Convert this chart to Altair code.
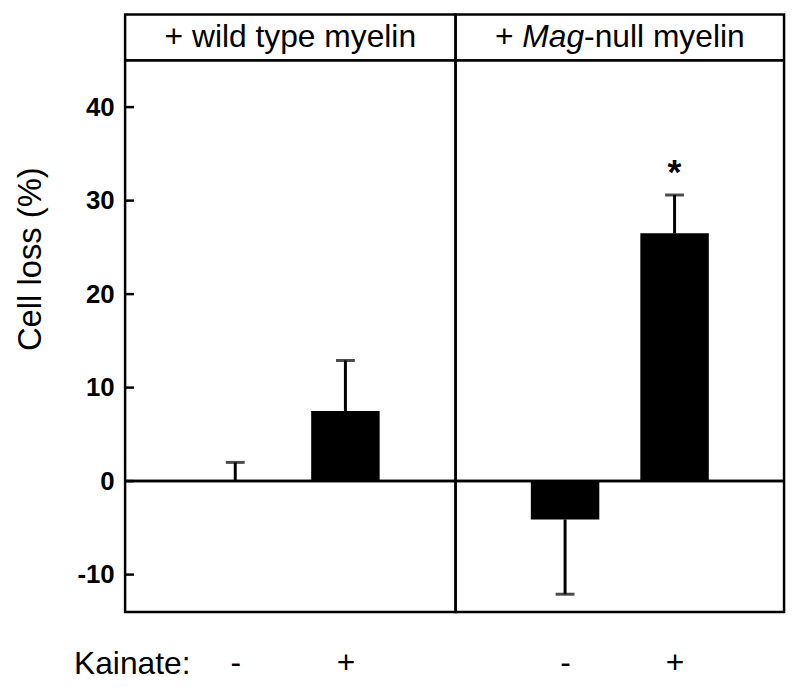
import altair as alt
import pandas as pd

# ---- data ----
panel_titles = ["+ wild type myelin", "+ Mag-null myelin"]
header_parts = ["+", "Mag", "-null myelin"]   # right header, "Mag" italic
groups = ["wt", "wt", "mag", "mag"]
kainate = ["-", "+", "-", "+"]
means = [0.0, 7.5, -4.1, 26.5]
errors = [2.0, 5.4, 8.0, 4.1]
stars = ["", "", "", "*"]
y_ticks = [-10, 0, 10, 20, 30, 40]

Y_MIN, Y_MAX, Y_TOP = -14, 45, 49.9
PANEL_WS = [333, 331]
PANEL_H = 602
FONT = "Liberation Sans"
HFS = 32

df = pd.DataFrame(dict(group=groups, kainate=kainate, mean=means, err=errors, star=stars))
df["end"] = [m + (e if m >= 0 else -e) for m, e in zip(means, errors)]

yscale = alt.Scale(domain=[Y_MIN, Y_TOP], nice=False, zero=False)
xscale = alt.Scale(type="point", domain=["-", "+"], padding=1)


def make_panel(g, first, pw):
    d = df[df.group == g]
    xaxis_kw = dict(labelAngle=0, labelFontSize=32, labelFont=FONT, labelColor="black",
                    labelBaseline="alphabetic", labelPadding=61, ticks=False, tickSize=0,
                    domain=False, grid=False)
    if first:
        xaxis_kw.update(title="Kainate:", titleFont=FONT, titleFontSize=32,
                        titleFontWeight="normal", titleColor="black", titleX=-52, titleY=62,
                        titleAlign="left", titleBaseline="alphabetic")
    else:
        xaxis_kw.update(title="")
    x = alt.X("kainate:N", scale=xscale, axis=alt.Axis(**xaxis_kw))
    if first:
        yaxis = alt.Axis(values=y_ticks, ticks=False, tickSize=0, domain=False, grid=False,
                         labelExpr="'' + datum.value",
                         labelFont=FONT, labelFontWeight="bold", labelFontSize=26,
                         labelColor="black", labelPadding=11,
                         title="Cell loss (%)", titleFont=FONT, titleFontSize=33,
                         titleFontWeight="normal", titleColor="black",
                         titleX=-95, titleY=246, titleAlign="center", titleBaseline="middle",
                         titleAngle=-90)
    else:
        yaxis = None
    base = alt.Chart(d)
    bars = base.mark_bar(size=69, color="black").encode(
        x=x, y=alt.Y("mean:Q", scale=yscale, axis=yaxis), y2=alt.datum(0))
    err = base.mark_rule(strokeWidth=3, color="black").encode(
        x="kainate:N", y="mean:Q", y2="end:Q")
    cap = base.mark_tick(orient="horizontal", size=19, thickness=3, color="black").encode(
        x="kainate:N", y="end:Q")
    star = base.mark_text(fontSize=36, font=FONT, fontWeight="bold", dy=-22, baseline="middle",
                          color="black").encode(x="kainate:N", y="end:Q", text="star:N")
    zero = alt.Chart(d).mark_rule(strokeWidth=2.5, color="black").encode(y=alt.datum(0))
    hline = alt.Chart(d).mark_rule(strokeWidth=2.5, color="black").encode(y=alt.datum(Y_MAX))
    layers = [bars, err, cap, star, zero, hline]
    hy = (Y_MAX + Y_TOP) / 2
    if first:
        tick_df = pd.DataFrame({"v": y_ticks})
        tks = alt.Chart(tick_df).mark_rule(strokeWidth=2.5, color="black").encode(
            y="v:Q", x=alt.value(0), x2=alt.value(9))
        layers.append(tks)
        ht = alt.Chart(pd.DataFrame({"t": [panel_titles[0]]})).mark_text(
            font=FONT, fontSize=HFS, align="center", baseline="middle", color="black"
        ).encode(text="t:N", x=alt.value(pw / 2), y=alt.datum(hy))
        layers.append(ht)
    else:
        em = [0.862, 1.945, 5.056]
        total = sum(em) * HFS
        x0 = pw / 2 - total / 2
        xs = [x0, x0 + em[0] * HFS, x0 + (em[0] + em[1]) * HFS]
        styles = ["normal", "italic", "normal"]
        for part, xp, st in zip(header_parts, xs, styles):
            layers.append(alt.Chart(pd.DataFrame({"t": [part]})).mark_text(
                font=FONT, fontSize=HFS, align="left", baseline="middle", color="black",
                fontStyle=st
            ).encode(text="t:N", x=alt.value(xp), y=alt.datum(hy)))
    return alt.layer(*layers).properties(width=pw, height=PANEL_H)


chart = alt.hconcat(
    make_panel("wt", True, PANEL_WS[0]), make_panel("mag", False, PANEL_WS[1]),
    spacing=0, bounds="flush"
).properties(
    padding={"top": 2, "left": 5, "right": 5, "bottom": 5}
).configure(background="white").configure_view(stroke="black", strokeWidth=2.5)

chart.save("out.html", embed_options={"renderer": "svg", "actions": False})
